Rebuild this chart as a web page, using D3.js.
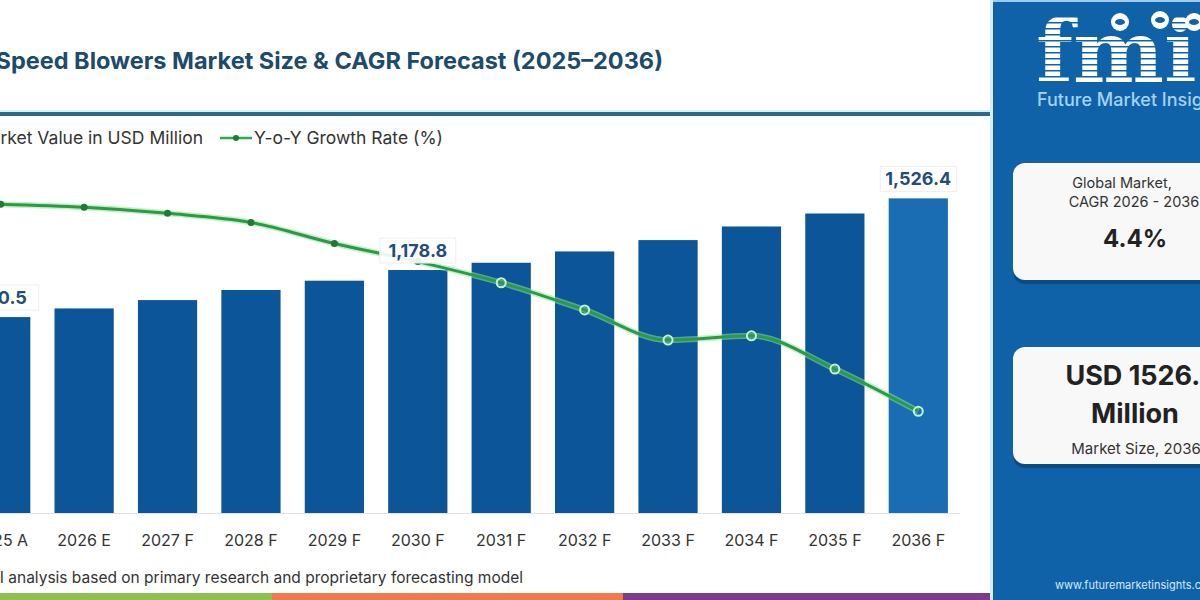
<!DOCTYPE html>
<html>
<head>
<meta charset="utf-8">
<script src="https://cdn.jsdelivr.net/npm/d3@7"></script>
<style>
  body { margin: 0; background: #fff; }
  svg { display: block; font-family: Inter, "Open Sans", sans-serif; }
</style>
</head>
<body>
<script>
// chart data
var years = ["2025 A", "2026 E", "2027 F", "2028 F", "2029 F", "2030 F",
             "2031 F", "2032 F", "2033 F", "2034 F", "2035 F", "2036 F"];
var marketValue = [950.5, 992.4, 1033, 1082, 1127, 1178.8, 1214, 1269, 1324, 1390, 1453, 1526.4];
var yoyGrowth = [4.9, 4.85, 4.75, 4.6, 4.25, 3.95, 3.6, 3.15, 2.65, 2.72, 2.17, 1.47];
var labelledYears = ["2025 A", "2030 F", "2036 F"];

var W = 1200, H = 600;
var svg = d3.select("body").append("svg").attr("width", W).attr("height", H);

var data = years.map(function(y, i) {
  return { year: y, value: marketValue[i], yoy: yoyGrowth[i] };
});

var x = d3.scaleBand().domain(years).range([-41, 960]).paddingInner(0.29).paddingOuter(0.145);
var y = d3.scaleLinear().domain([0, 1600]).range([513, 183.2]);
var y2 = d3.scaleLinear().domain([0, 6]).range([500, 137.9]);

// title + rule
svg.append("text")
  .attr("x", 663).attr("y", 69)
  .attr("text-anchor", "end")
  .attr("font-size", 23.5).attr("font-weight", 700)
  .attr("fill", "#1c4b6c")
  .text("High Speed Blowers Market Size & CAGR Forecast (2025\u20132036)");

svg.append("rect").attr("x", 0).attr("y", 110).attr("width", 991).attr("height", 2).attr("fill", "#d6f1fa");
svg.append("rect").attr("x", 0).attr("y", 112).attr("width", 991).attr("height", 4).attr("fill", "#2c6a8c");

// legend
var leg = svg.append("g").attr("font-size", 17.5).attr("fill", "#333");
var legTxt = leg.append("text").attr("x", 203).attr("y", 144).attr("text-anchor", "end")
  .text("Market Value in USD Million");
var lw = legTxt.node().getComputedTextLength();
leg.append("rect").attr("x", 203 - lw - 20).attr("y", 131).attr("width", 14).attr("height", 14).attr("fill", "#0b5598");
leg.append("line").attr("x1", 220).attr("x2", 252).attr("y1", 138).attr("y2", 138)
  .attr("stroke", "#2fa84a").attr("stroke-width", 2.5);
leg.append("circle").attr("cx", 236).attr("cy", 138).attr("r", 3).attr("fill", "#1f7a35");
leg.append("text").attr("x", 254).attr("y", 144).text("Y-o-Y Growth Rate (%)");

// x axis
var xAxis = svg.append("g")
  .attr("transform", "translate(0,513)")
  .call(d3.axisBottom(x).tickSize(0).tickPadding(22));
xAxis.select(".domain").attr("stroke", "#e2e2e2");
xAxis.selectAll("text").attr("font-size", 16).attr("fill", "#333").attr("font-family", "Inter, sans-serif");

// bars
svg.append("g").selectAll("rect")
  .data(data)
  .enter().append("rect")
    .attr("x", function(d) { return x(d.year); })
    .attr("y", function(d) { return y(d.value); })
    .attr("width", x.bandwidth())
    .attr("height", function(d) { return y(0) - y(d.value); })
    .attr("fill", function(d, i) { return i === data.length - 1 ? "#1a6db3" : "#0b5598"; });

// growth line
var cx = function(d) { return x(d.year) + x.bandwidth() / 2; };
var line = d3.line().x(cx).y(function(d) { return y2(d.yoy); }).curve(d3.curveMonotoneX);

svg.append("path").datum(data).attr("d", line)
  .attr("fill", "none").attr("stroke", "#8fe39d").attr("stroke-width", 6).attr("stroke-opacity", 0.55);
svg.append("path").datum(data).attr("d", line)
  .attr("fill", "none").attr("stroke", "#2a9a45").attr("stroke-width", 3);

svg.append("g").selectAll("circle")
  .data(data)
  .enter().append("circle")
    .attr("cx", cx)
    .attr("cy", function(d) { return y2(d.yoy); })
    .attr("r", function(d) { return y2(d.yoy) > y(d.value) ? 4.5 : 3.5; })
    .attr("fill", function(d) { return y2(d.yoy) > y(d.value) ? "none" : "#1f7a35"; })
    .attr("stroke", function(d) { return y2(d.yoy) > y(d.value) ? "#c4f5cc" : "none"; })
    .attr("stroke-width", 2);

// value labels
var lab = svg.append("g").selectAll("g")
  .data(data.filter(function(d) { return labelledYears.indexOf(d.year) >= 0; }))
  .enter().append("g");
lab.append("rect")
  .attr("x", function(d) { return cx(d) - 38; })
  .attr("y", function(d) { return y(d.value) - 32; })
  .attr("width", 76).attr("height", 25)
  .attr("fill", "#fff").attr("fill-opacity", 0.9)
  .attr("stroke", "#eeeeee");
lab.append("text")
  .attr("x", cx)
  .attr("y", function(d) { return y(d.value) - 13; })
  .attr("text-anchor", "middle")
  .attr("font-size", 18).attr("font-weight", 700)
  .attr("fill", "#1f4e79")
  .text(function(d) { return d3.format(",.1f")(d.value); });

// source + colour strip
svg.append("text")
  .attr("x", 523).attr("y", 583)
  .attr("text-anchor", "end")
  .attr("font-size", 15.5).attr("fill", "#333")
  .text("Source: FMI analysis based on primary research and proprietary forecasting model");
svg.append("rect").attr("x", 0).attr("y", 593).attr("width", 272).attr("height", 7).attr("fill", "#8cc152");
svg.append("rect").attr("x", 272).attr("y", 593).attr("width", 351).attr("height", 7).attr("fill", "#ee7a4e");
svg.append("rect").attr("x", 623).attr("y", 593).attr("width", 368).attr("height", 7).attr("fill", "#7b3c8c");

// right panel
var panel = svg.append("g");
panel.append("rect").attr("x", 990).attr("y", 0).attr("width", 3).attr("height", H).attr("fill", "#d3eef9");
panel.append("rect").attr("x", 993).attr("y", 0).attr("width", 207).attr("height", H).attr("fill", "#0f62a8");
panel.append("rect").attr("x", 993).attr("y", 0).attr("width", 207).attr("height", 2).attr("fill", "#9fcbee");

var defs = svg.append("defs");
var pat = defs.append("pattern").attr("id", "stripes").attr("patternUnits", "userSpaceOnUse")
  .attr("width", 8).attr("height", 6);
pat.append("rect").attr("width", 8).attr("height", 6).attr("fill", "#fff");
pat.append("rect").attr("y", 4).attr("width", 8).attr("height", 1.5).attr("fill", "#0f62a8");

panel.append("text").attr("x", 1036).attr("y", 82)
  .attr("font-family", "DejaVu Serif, serif").attr("font-weight", 700).attr("font-size", 86)
  .attr("fill", "url(#stripes)").text("fmi");
[[1120, 22], [1160, 20], [1194, 22]].forEach(function(p) {
  panel.append("circle").attr("cx", p[0]).attr("cy", p[1]).attr("r", 9).attr("fill", "#fff");
  panel.append("ellipse").attr("cx", p[0]).attr("cy", p[1]).attr("rx", 5).attr("ry", 3).attr("fill", "#0f62a8");
});
panel.append("text").attr("x", 1037).attr("y", 106)
  .attr("font-size", 18).attr("font-weight", 500).attr("fill", "#a5d2f4")
  .text("Future Market Insights");

function card(y0, h) {
  panel.append("rect").attr("x", 1013).attr("y", y0 + 4).attr("width", 220).attr("height", h)
    .attr("rx", 12).attr("fill", "#0a4b86");
  panel.append("rect").attr("x", 1013).attr("y", y0).attr("width", 220).attr("height", h)
    .attr("rx", 12).attr("fill", "#f8f8f8");
}
card(163, 117);
card(347, 117);

var tc = panel.append("g").attr("text-anchor", "middle").attr("fill", "#333");
tc.append("text").attr("x", 1122).attr("y", 188).attr("font-size", 14.5).text("Global Market,");
tc.append("text").attr("x", 1134).attr("y", 207).attr("font-size", 14.5).text("CAGR 2026 - 2036");
tc.append("text").attr("x", 1135).attr("y", 247).attr("font-size", 24).attr("font-weight", 700)
  .attr("fill", "#222").text("4.4%");
tc.append("text").attr("x", 1142).attr("y", 385).attr("font-size", 27).attr("font-weight", 700)
  .attr("fill", "#222").text("USD 1526.4");
tc.append("text").attr("x", 1135).attr("y", 423).attr("font-size", 27).attr("font-weight", 700)
  .attr("fill", "#222").text("Million");
tc.append("text").attr("x", 1136).attr("y", 454).attr("font-size", 15).text("Market Size, 2036");

panel.append("text").attr("x", 1055).attr("y", 589)
  .attr("font-size", 11).attr("fill", "#d2e8f8")
  .text("www.futuremarketinsights.com");
</script>
</body>
</html>
